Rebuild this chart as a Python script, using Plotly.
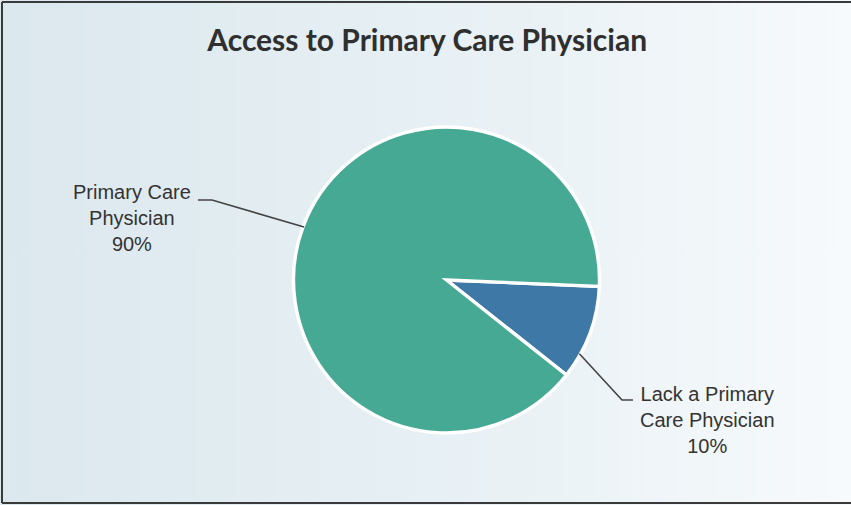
import math
import plotly.graph_objects as go

# ---- data ----
labels = ["Lack a Primary Care Physician", "Primary Care Physician"]
values = [10, 90]
label_lines = [["Lack a Primary", "Care Physician"], ["Primary Care", "Physician"]]
title_text = "Access to Primary Care Physician"

# ---- style ----
W, H = 851, 505
colors = ["#3d78a7", "#45a994"]
cx, cy = 446.5, 280        # pie centre in pixels (from top-left)
R = 153                    # pie radius in pixels
rotation = 92.4            # first slice start, degrees clockwise from 12 o'clock
anchor_frac = [0.74, 0.5]  # where along each slice the connector touches
label_center = [(707, 420), (132, 218)]
elbows = [[(622, 400), (633, 400)], [(212, 200), (198, 200)]]
text_font = dict(family="Liberation Sans, Arial, sans-serif", size=20, color="#333333")

dom_x = [(cx - R) / W, (cx + R) / W]
dom_y = [(H - cy - R) / H, (H - cy + R) / H]


def px(x, y):
    return x / W, 1 - y / H


fig = go.Figure()

# background gradient
fig.add_trace(go.Scatter(
    x=[0, 1, 1, 0, 0], y=[0, 0, 1, 1, 0], mode="lines", fill="toself",
    line=dict(width=0), hoverinfo="skip", showlegend=False,
    fillgradient=dict(type="horizontal",
                      colorscale=[[0, "#dbe8ee"], [0.6, "#e9f1f5"], [1, "#f7fafc"]]),
))

fig.add_trace(go.Pie(
    labels=labels, values=values, sort=False, direction="clockwise",
    rotation=rotation, textinfo="none", hoverinfo="label+percent",
    marker=dict(colors=colors, line=dict(color="white", width=3.4)),
    domain=dict(x=dom_x, y=dom_y), showlegend=False,
))

# connectors and labels computed from the slice angles
total = sum(values)
start = rotation - 90.0  # degrees below 3 o'clock, clockwise on screen
shapes = []
annotations = []
for i, v in enumerate(values):
    span = 360.0 * v / total
    anc = math.radians(start + span * anchor_frac[i])
    ax_, ay_ = cx + (R - 1) * math.cos(anc), cy + (R - 1) * math.sin(anc)
    pts = [(ax_, ay_)] + elbows[i]
    path = "M " + " L ".join("%f,%f" % px(x, y) for x, y in pts)
    shapes.append(dict(type="path", xref="paper", yref="paper", path=path,
                       line=dict(color="#444444", width=1.6)))
    pct = round(100 * v / total)
    lx, ly = px(*label_center[i])
    annotations.append(dict(
        x=lx, y=ly, xref="paper", yref="paper", showarrow=False,
        text="<br>".join(label_lines[i] + ["%d%%" % pct]),
        align="center", xanchor="center", yanchor="middle", font=text_font,
    ))
    start += span

# frame lines (top, left, bottom)
for (x0, y0, x1, y1) in [(2, 2, W + 5, 2), (2, 2, 2, 503), (2, 503, W + 5, 503)]:
    a, b = px(x0, y0)
    c, d = px(x1, y1)
    shapes.append(dict(type="line", xref="paper", yref="paper", x0=a, y0=b, x1=c, y1=d,
                       line=dict(color="#3a3a3a", width=2)))

fig.update_layout(
    width=W, height=H,
    margin=dict(l=0, r=0, t=0, b=0),
    paper_bgcolor="#e6eff3", plot_bgcolor="rgba(0,0,0,0)",
    xaxis=dict(range=[0, 1], visible=False, fixedrange=True, domain=[0, 1]),
    yaxis=dict(range=[0, 1], visible=False, fixedrange=True, domain=[0, 1]),
    title=dict(text=title_text, x=0.502, xanchor="center", y=1 - 40 / H, yanchor="middle",
               font=dict(family="Lato", size=30, color="#2f2f2f", weight="bold")),
    shapes=shapes, annotations=annotations,
)

post = (
    "document.body.style.margin='0';document.body.style.overflow='hidden';"
    "document.querySelectorAll('.slice path').forEach(function(p){"
    "p.style.strokeLinejoin='miter';p.style.strokeMiterlimit='10';});"
)
fig.write_html("out.html", config={"displayModeBar": False}, post_script=post)
